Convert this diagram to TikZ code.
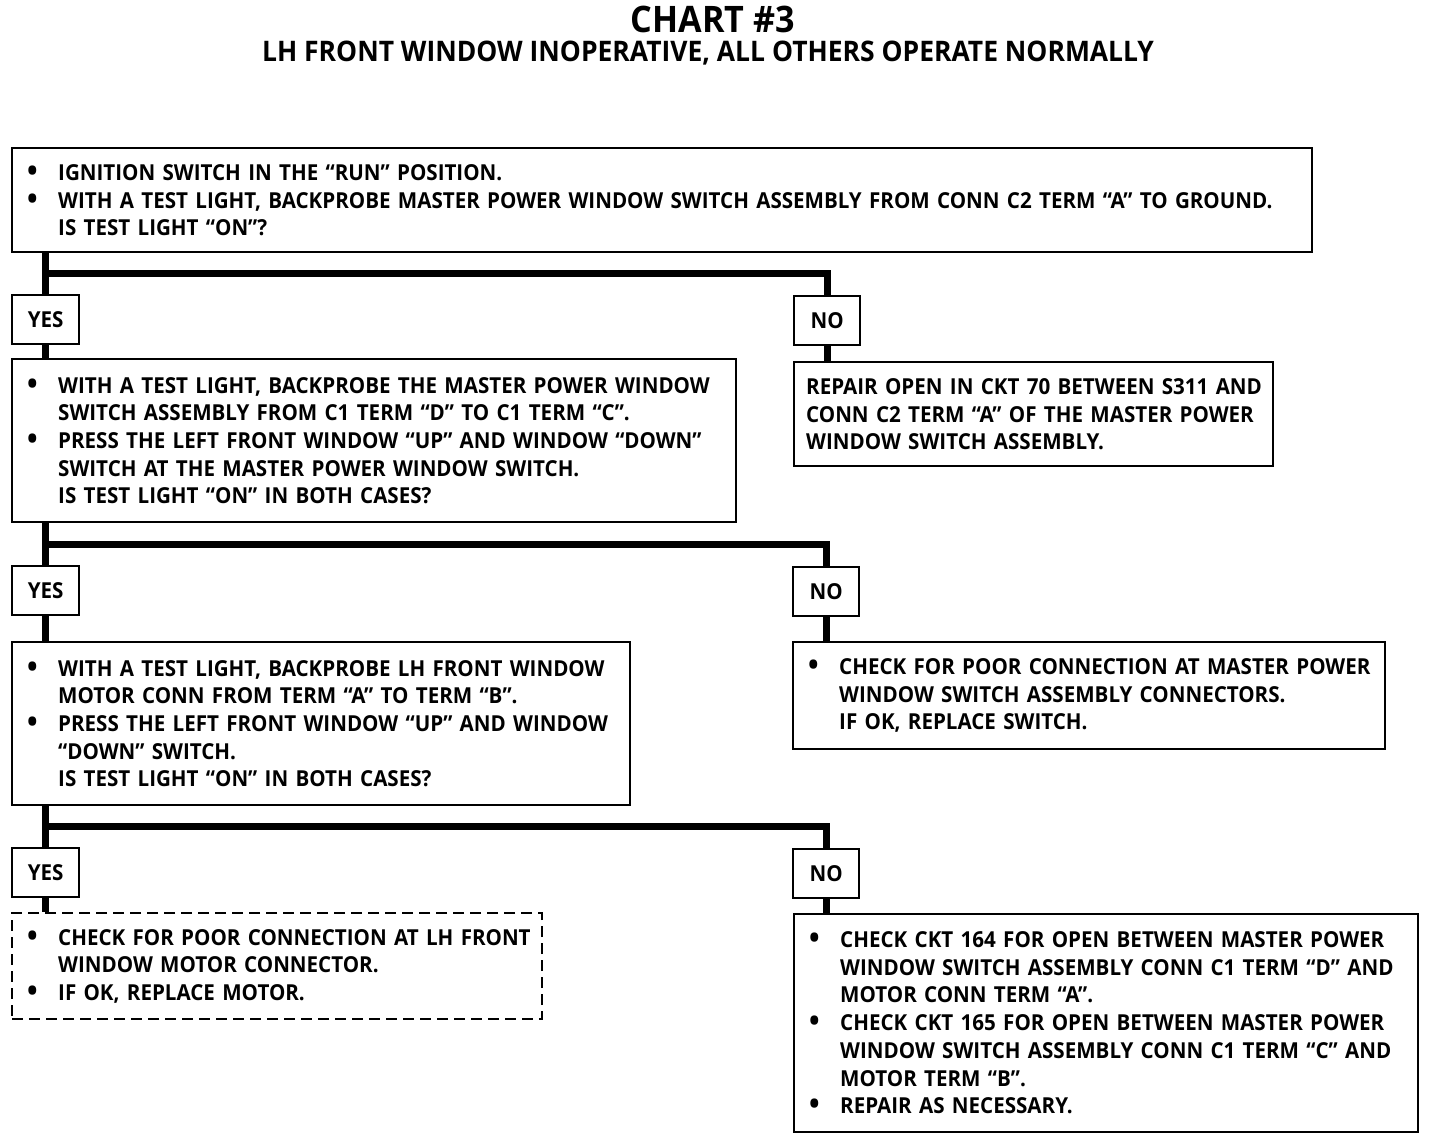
\documentclass[tikz,border=0pt]{standalone}
\usepackage{fontspec}
\setmainfont{Open Sans}[FakeStretch=0.935]
\usetikzlibrary{positioning}

% one line of a box: bulleted, continued, or plain
\newcommand{\bpt}[1]{\mbox{\makebox[34pt][l]{\hspace{3pt}\raisebox{-1pt}{\fontsize{30pt}{27.7pt}\selectfont\textbullet}}#1}}
\newcommand{\bcont}[1]{\mbox{\hspace*{34pt}#1}}
\newcommand{\pln}[1]{\mbox{#1}}

\begin{document}
\begin{tikzpicture}[x=1pt, y=-1pt,
  box/.style={draw, line width=2.4pt, anchor=north west, align=left,
    inner xsep=12pt, inner ysep=0pt, font=\fontsize{22pt}{27.7pt}\selectfont\bfseries},
  dbox/.style={box, dash pattern=on 11pt off 6pt},
  ans/.style={draw, line width=2.4pt, anchor=north west, inner sep=0pt,
    minimum width=66pt, minimum height=49pt,
    font=\fontsize{22pt}{26pt}\selectfont\bfseries},
  bar/.style={line width=7pt}]
\useasboundingbox (0,0) rectangle (1440,1138);

\node[font=\fontsize{36.5pt}{40pt}\selectfont\bfseries] (title) at (713,19) {CHART \#3};
\node[font=\fontsize{28.3pt}{30pt}\selectfont\bfseries] (sub) at (708,53)
  {LH FRONT WINDOW INOPERATIVE, ALL OTHERS OPERATE NORMALLY};

% first check
\node[box, text width=1276pt, minimum height=104pt] (q1) at (11,147)
  {\bpt{IGNITION SWITCH IN THE “RUN” POSITION.}\\
   \bpt{WITH A TEST LIGHT, BACKPROBE MASTER POWER WINDOW SWITCH ASSEMBLY FROM CONN C2 TERM “A” TO GROUND.}\\
   \bcont{IS TEST LIGHT “ON”?}};
\node[ans, minimum width=67pt] (yes1) at (11,294) {YES};
\node[ans] (no1) at (793,295) {NO};
\coordinate (j1) at (44.5,273);

\node[box, text width=700pt, minimum height=163pt] (q2) at (11,358)
  {\bpt{WITH A TEST LIGHT, BACKPROBE THE MASTER POWER WINDOW}\\
   \bcont{SWITCH ASSEMBLY FROM C1 TERM “D” TO C1 TERM “C”.}\\
   \bpt{PRESS THE LEFT FRONT WINDOW “UP” AND WINDOW “DOWN”}\\
   \bcont{SWITCH AT THE MASTER POWER WINDOW SWITCH.}\\
   \bcont{IS TEST LIGHT “ON” IN BOTH CASES?}};
\node[box, text width=455pt, minimum height=104pt] (r1) at (793,361)
  {\pln{REPAIR OPEN IN CKT 70 BETWEEN S311 AND}\\
   \pln{CONN C2 TERM “A” OF THE MASTER POWER}\\
   \pln{WINDOW SWITCH ASSEMBLY.}};

% second check
\node[ans, minimum width=67pt] (yes2) at (11,565) {YES};
\node[ans] (no2) at (792,566) {NO};
\coordinate (j2) at (44.5,544);

\node[box, text width=594pt, minimum height=163pt] (q3) at (11,641)
  {\bpt{WITH A TEST LIGHT, BACKPROBE LH FRONT WINDOW}\\
   \bcont{MOTOR CONN FROM TERM “A” TO TERM “B”.}\\
   \bpt{PRESS THE LEFT FRONT WINDOW “UP” AND WINDOW}\\
   \bcont{“DOWN” SWITCH.}\\
   \bcont{IS TEST LIGHT “ON” IN BOTH CASES?}};
\node[box, text width=568pt, minimum height=107pt] (r2) at (792,641)
  {\bpt{CHECK FOR POOR CONNECTION AT MASTER POWER}\\
   \bcont{WINDOW SWITCH ASSEMBLY CONNECTORS.}\\
   \bcont{IF OK, REPLACE SWITCH.}};

% third check
\node[ans, minimum width=67pt] (yes3) at (11,847) {YES};
\node[ans] (no3) at (792,848) {NO};
\coordinate (j3) at (44.5,826);

\node[dbox, text width=506pt, minimum height=106pt] (r3) at (11,912)
  {\bpt{CHECK FOR POOR CONNECTION AT LH FRONT}\\
   \bcont{WINDOW MOTOR CONNECTOR.}\\
   \bpt{IF OK, REPLACE MOTOR.}};
\node[box, text width=600pt, minimum height=218pt] (r4) at (793,913)
  {\bpt{CHECK CKT 164 FOR OPEN BETWEEN MASTER POWER}\\
   \bcont{WINDOW SWITCH ASSEMBLY CONN C1 TERM “D” AND}\\
   \bcont{MOTOR CONN TERM “A”.}\\
   \bpt{CHECK CKT 165 FOR OPEN BETWEEN MASTER POWER}\\
   \bcont{WINDOW SWITCH ASSEMBLY CONN C1 TERM “C” AND}\\
   \bcont{MOTOR TERM “B”.}\\
   \bpt{REPAIR AS NECESSARY.}};

% branches
\draw[bar] (yes1.north |- q1.south) -- (yes1.north);
\draw[bar] (j1) -| (no1.north);
\draw[bar] (yes1.south) -- (yes1.south |- q2.north);
\draw[bar] (no1.south) -- (no1.south |- r1.north);

\draw[bar] (yes2.north |- q2.south) -- (yes2.north);
\draw[bar] (j2) -| (no2.north);
\draw[bar] (yes2.south) -- (yes2.south |- q3.north);
\draw[bar] (no2.south) -- (no2.south |- r2.north);

\draw[bar] (yes3.north |- q3.south) -- (yes3.north);
\draw[bar] (j3) -| (no3.north);
\draw[bar] (yes3.south) -- (yes3.south |- r3.north);
\draw[bar] (no3.south) -- (no3.south |- r4.north);
\end{tikzpicture}
\end{document}
